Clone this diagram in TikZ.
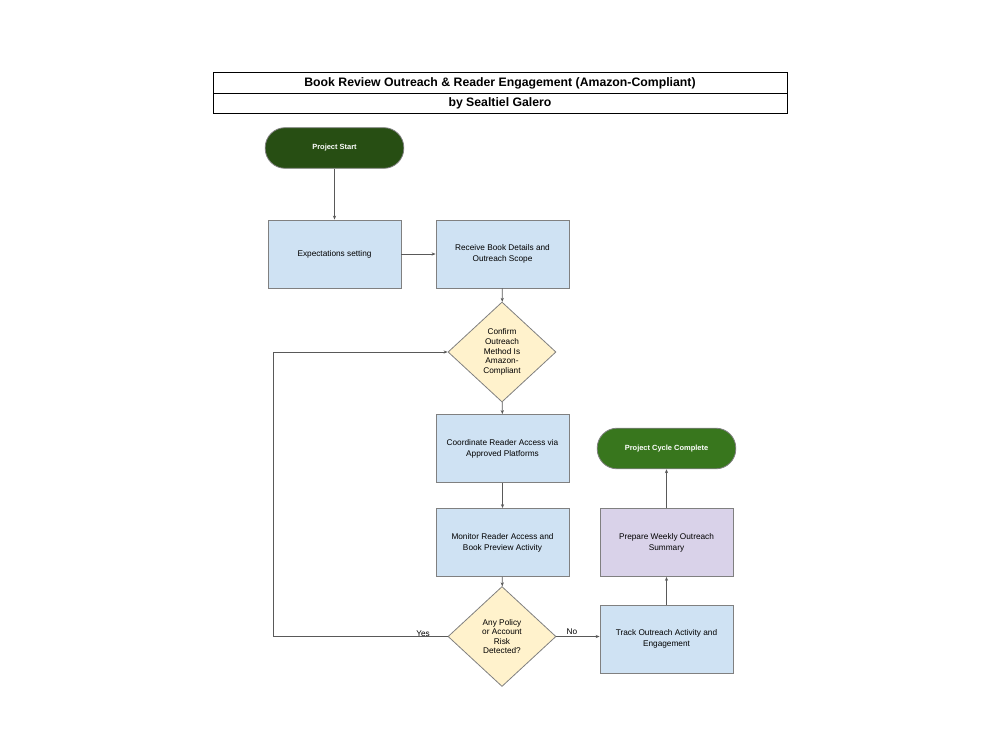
\documentclass[tikz,border=0pt]{standalone}
\usepackage{fontspec}
\setmainfont{Liberation Sans}
\usetikzlibrary{shapes.geometric,arrows.meta}
\definecolor{startgreen}{HTML}{274E13}
\definecolor{endgreen}{HTML}{38761D}
\definecolor{boxblue}{HTML}{CFE2F3}
\definecolor{diayellow}{HTML}{FFF2CC}
\definecolor{boxlav}{HTML}{D9D2E9}
\definecolor{edgegrey}{HTML}{808080}
\definecolor{linegrey}{HTML}{595959}
\tikzset{
  procbox/.style={draw=edgegrey, line width=0.6pt, fill=boxblue, minimum width=99.75pt, minimum height=51pt, align=center, font=\fontsize{6.2}{8.2}\selectfont, text=black},
  decide/.style={diamond, draw=edgegrey, line width=0.6pt, fill=diayellow, minimum width=81pt, minimum height=75pt, inner sep=0pt, align=center, font=\fontsize{6.2}{7.2}\selectfont},
  terminal/.style={rounded corners=15pt, draw=edgegrey, line width=0.6pt, minimum width=104pt, minimum height=30.5pt, align=center, text=white, font=\bfseries\fontsize{5.6}{7}\selectfont},
  conn/.style={draw=linegrey, line width=0.5pt, -{Stealth[length=3pt,width=2.4pt]}},
  lbl/.style={font=\fontsize{6.2}{7}\selectfont},
  titlecell/.style={draw=black, line width=0.6pt, outer sep=0pt, minimum width=430.5pt, minimum height=15pt, font=\bfseries\fontsize{9.2}{10}\selectfont}
}
\begin{document}
\begin{tikzpicture}[x=0.75pt,y=-0.75pt]
\useasboundingbox (0,0) rectangle (1000,750);
% title
\node[titlecell] (title) at (500,83) {Book Review Outreach \& Reader Engagement (Amazon-Compliant)};
\node[titlecell, anchor=north] (author) at (title.south) {by Sealtiel Galero};
% nodes
\node[terminal, fill=startgreen] (start) at (334.5,148) {Project Start};
\node[procbox] (expect) at (334.5,254) {Expectations setting};
\node[procbox] (receive) at (502.5,254) {Receive Book Details and\\Outreach Scope};
\node[decide] (confirm) at (502,352) {Confirm\\Outreach\\Method Is\\Amazon-\\Compliant};
\node[procbox] (coord) at (502.5,448.5) {Coordinate Reader Access via\\Approved Platforms};
\node[procbox] (monitor) at (502.5,542.5) {Monitor Reader Access and\\Book Preview Activity};
\node[decide] (risk) at (502,636.5) {Any Policy\\or Account\\Risk\\Detected?};
\node[procbox] (track) at (666.5,639) {Track Outreach Activity and\\Engagement};
\node[procbox, fill=boxlav] (prepare) at (666.5,542.5) {Prepare Weekly Outreach\\Summary};
\node[terminal, fill=endgreen] (done) at (666.5,448.5) {Project Cycle Complete};
\coordinate (loopb) at (273,636.5);
\coordinate (loopt) at (273,352);
% connectors
\draw[conn] (start) -- (expect);
\draw[conn] (expect) -- (receive);
\draw[conn] (receive) -- (confirm);
\draw[conn] (confirm) -- (coord);
\draw[conn] (coord) -- (monitor);
\draw[conn] (monitor) -- (risk);
\draw[conn] (risk.west) -- (loopb) -- (loopt) -- (confirm.west);
\draw[conn] (risk.east) -- (track.west |- risk.east);
\draw[conn] (track) -- (prepare);
\draw[conn] (prepare) -- (done);
\node[lbl] (yes) at (423,634) {Yes};
\node[lbl] (no) at (572,632) {No};
\end{tikzpicture}
\end{document}
